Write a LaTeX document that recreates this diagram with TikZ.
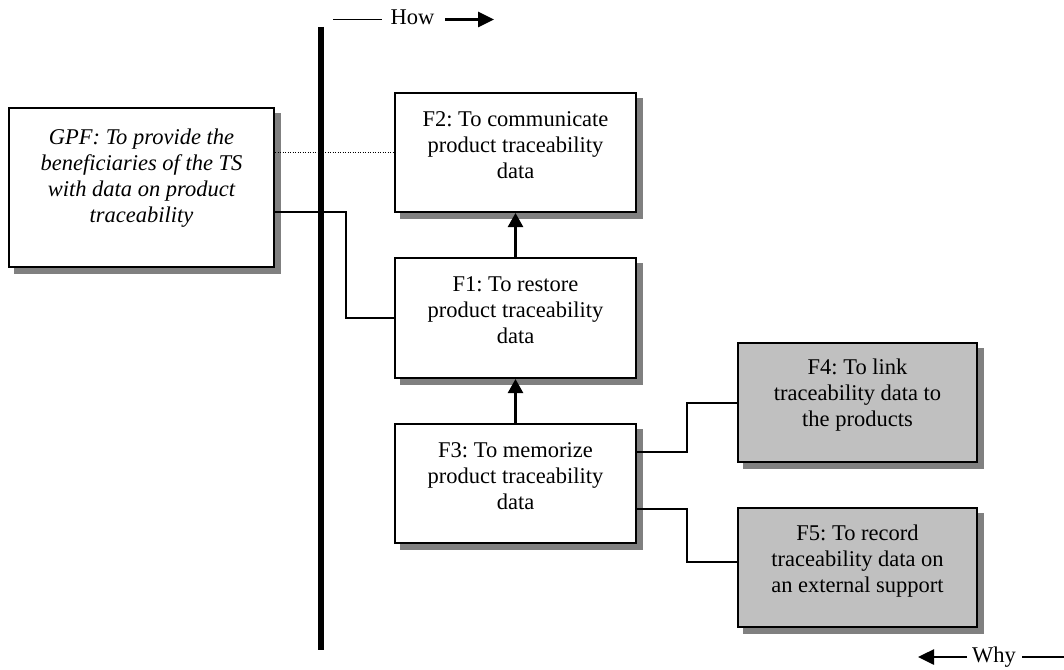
\documentclass[tikz,border=0pt]{standalone}
\usepackage{fontspec}
\setmainfont{Liberation Serif}
\usetikzlibrary{arrows.meta,backgrounds}
\definecolor{shadowgray}{HTML}{808080}
\definecolor{fillgray}{HTML}{C0C0C0}
\newcommand\fbtext[4]{\parbox[c][#2][t]{#1}{\centering\frenchspacing\rule{0pt}{#3}#4}}
\frenchspacing
\begin{document}
\begin{tikzpicture}[x=1pt,y=-1pt,
  fbox/.style={draw, line width=2pt, fill=white, inner sep=0pt, font=\fontsize{22.5}{26}\selectfont},
  grayfbox/.style={fbox, fill=fillgray},
  conn/.style={line width=2pt},
  dotconn/.style={line width=1.3pt, dash pattern=on 1.3pt off 1.2pt},
  uparr/.style={line width=2.4pt, -{Triangle[length=14pt,width=15pt]}},
  bigarr/.style={line width=2.6pt, -{Triangle[length=16pt,width=15pt]}},
  thinln/.style={line width=1.2pt},
  lbl/.style={font=\fontsize{22.5}{26}\selectfont, inner sep=0pt, anchor=base}
]
\useasboundingbox (0,0) rectangle (1064,669);

% boxes
\node[fbox] (GPF) at (141.5,187.5) {\fbtext{265pt}{159pt}{36pt}{\itshape GPF: To provide the\\beneficiaries of the TS\\with data on product\\traceability}};
\node[fbox] (F2) at (515.5,152.5) {\fbtext{241pt}{119pt}{33pt}{F2: To communicate\\product traceability\\data}};
\node[fbox] (F1) at (515.5,318) {\fbtext{241pt}{120pt}{33pt}{F1: To restore\\product traceability\\data}};
\node[fbox] (F3) at (515.5,483.5) {\fbtext{241pt}{119pt}{33pt}{F3: To memorize\\product traceability\\data}};
\node[grayfbox] (F4) at (857.5,402.5) {\fbtext{239pt}{119pt}{31pt}{F4: To link\\traceability data to\\the products}};
\node[grayfbox] (F5) at (857.5,567.5) {\fbtext{239pt}{119pt}{32pt}{F5: To record\\traceability data on\\an external support}};

% shadows
\begin{scope}[on background layer]
  \foreach \n in {GPF,F2,F1,F3,F4,F5}
    \fill[shadowgray] ([shift={(6,6)}]\n.south west) rectangle ([shift={(6,6)}]\n.north east);
\end{scope}

% vertical bar
\coordinate (bartop) at (321,27);
\coordinate (barbot) at (321,650);
\draw[line width=6pt] (bartop) -- (barbot);

% connectors
\draw[dotconn] (F2.west -| GPF.east) -- (F2.west);
\coordinate (c1) at (346,212);
\draw[conn] (GPF.east |- c1) -- (c1) |- (F1.west);
\coordinate (c2) at (687,452);
\draw[conn] (F3.east |- c2) -- (c2) |- (F4.west);
\coordinate (c3) at (687,509);
\coordinate (c3b) at (687,562);
\draw[conn] (F3.east |- c3) -- (c3) -- (c3b) -- (c3b -| F5.west);

\draw[uparr] (F1.north) -- (F2.south);
\draw[uparr] (F3.north) -- (F1.south);

% How / Why
\node[lbl] (how) at (412.5,25) {How};
\coordinate (hl1) at (333,19.5);
\coordinate (hl2) at (382,19.5);
\coordinate (ha1) at (445,19.5);
\coordinate (ha2) at (494,19.5);
\draw[thinln] (hl1) -- (hl2);
\draw[bigarr] (ha1) -- (ha2);

\node[lbl] (why) at (994,662.5) {Why};
\coordinate (wa1) at (967,657);
\coordinate (wa2) at (918,657);
\coordinate (wl1) at (1022,657);
\coordinate (wl2) at (1064,657);
\draw[bigarr] (wa1) -- (wa2);
\draw[thinln] (wl1) -- (wl2);
\end{tikzpicture}
\end{document}
